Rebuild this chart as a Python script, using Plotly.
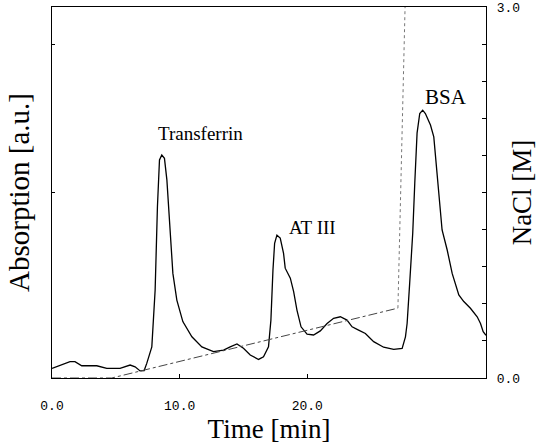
import plotly.graph_objects as go

# Absorption trace (time in min, absorption in arbitrary units)
time_min = [0.0, 1.41, 1.80, 2.33, 3.51, 4.29, 5.33, 6.12, 6.51, 6.90, 7.22,
            7.43, 7.82, 8.08, 8.26, 8.42, 8.60, 8.81, 9.00, 9.20, 9.47, 9.78,
            10.25, 10.96, 11.74, 12.65, 13.44, 13.96, 14.49, 15.00, 15.53,
            16.18, 16.57, 16.96, 17.15, 17.31, 17.44, 17.62, 17.88, 18.14,
            18.27, 18.67, 18.93, 19.19, 19.51, 19.98, 20.49, 21.02, 21.55,
            22.06, 22.59, 23.11, 23.51, 24.02, 24.55, 25.20, 25.98, 26.77,
            27.43, 27.69, 27.82, 28.02, 28.26, 28.42, 28.60, 28.81, 29.04,
            29.25, 29.65, 29.91, 30.12, 30.38, 30.56, 30.96, 31.35, 31.87,
            32.26, 32.78, 33.31, 33.57, 33.78, 34.0]
absorption = [0.026, 0.044, 0.044, 0.033, 0.033, 0.026, 0.026, 0.035, 0.030,
              0.019, 0.020, 0.040, 0.084, 0.237, 0.462, 0.588, 0.601, 0.592,
              0.534, 0.417, 0.282, 0.210, 0.152, 0.111, 0.084, 0.071, 0.075,
              0.084, 0.092, 0.080, 0.062, 0.050, 0.057, 0.084, 0.156, 0.291,
              0.363, 0.385, 0.377, 0.336, 0.296, 0.269, 0.233, 0.183, 0.138,
              0.118, 0.116, 0.127, 0.147, 0.161, 0.165, 0.156, 0.138, 0.129,
              0.120, 0.098, 0.083, 0.077, 0.080, 0.111, 0.147, 0.255, 0.390,
              0.525, 0.660, 0.713, 0.722, 0.713, 0.682, 0.650, 0.570, 0.480,
              0.399, 0.345, 0.282, 0.224, 0.206, 0.188, 0.165, 0.147, 0.125,
              0.115]

# NaCl gradient (time in min, concentration in M)
grad_time = [0.0, 4.68, 27.1]
grad_nacl = [0.0, 0.0, 0.565]
step_time = [27.1, 27.66]
step_nacl = [0.565, 3.0]

# Peak labels
peak_names = ["Transferrin", "AT III", "BSA"]
peak_x = [11.6, 20.4, 30.9]
peak_y = [0.66, 0.407, 0.757]
peak_sizes = [19, 19, 21]

x_tickvals = [0, 10, 20]
x_ticktext = ["0.0", "10.0", "20.0"]
y2_tickvals = [i * 0.3 for i in range(11)]
y2_ticktext = ["0.0"] + [""] * 9 + ["3.0"]

serif = "Liberation Serif"
mono = "Liberation Mono"
fig = go.Figure()
fig.add_trace(go.Scatter(x=grad_time, y=grad_nacl, yaxis="y2", mode="lines",
                         line=dict(color="#444", width=1, dash="dashdot"),
                         showlegend=False))
fig.add_trace(go.Scatter(x=step_time, y=step_nacl, yaxis="y2", mode="lines",
                         line=dict(color="#777", width=1, dash="dot"),
                         showlegend=False))
fig.add_trace(go.Scatter(x=time_min, y=absorption, mode="lines",
                         line=dict(color="black", width=1.3), showlegend=False))

for name, px, py, sz in zip(peak_names, peak_x, peak_y, peak_sizes):
    fig.add_annotation(x=px, y=py, text=name, showarrow=False,
                       font=dict(family=serif, size=sz, color="black"))

fig.update_layout(
    width=537, height=447,
    margin=dict(l=52, r=51, t=7, b=69),
    paper_bgcolor="white", plot_bgcolor="white",
    xaxis=dict(range=[0, 34], tickvals=x_tickvals, ticktext=x_ticktext,
               ticks="inside", ticklen=4, tickcolor="black", automargin=False,
               showline=True, linecolor="black", linewidth=1.3, mirror=True,
               showgrid=False, zeroline=False, ticklabelstandoff=15,
               tickfont=dict(family=mono, size=13, color="black"),
               title=dict(text="Time [min]", standoff=2,
                          font=dict(family=serif, size=27, color="black"))),
    yaxis=dict(range=[0, 1], tickvals=[0.5, 0.9], showticklabels=False,
               ticks="inside", ticklen=3, tickcolor="black", automargin=False,
               showline=True, linecolor="black", linewidth=1.3,
               showgrid=False, zeroline=False,
               title=dict(text="Absorption [a.u.]", standoff=12,
                          font=dict(family=serif, size=29, color="black"))),
    yaxis2=dict(range=[0, 3], overlaying="y", side="right",
                tickvals=y2_tickvals, ticktext=y2_ticktext, automargin=False,
                ticks="inside", ticklen=4, tickcolor="black",
                showline=True, linecolor="black", linewidth=1.3,
                showgrid=False, zeroline=False, ticklabelstandoff=7,
                tickfont=dict(family=mono, size=13, color="black"),
                title=dict(text="NaCl [M]", standoff=0,
                           font=dict(family=serif, size=27, color="black"))),
)

fig.write_html("out.html")
